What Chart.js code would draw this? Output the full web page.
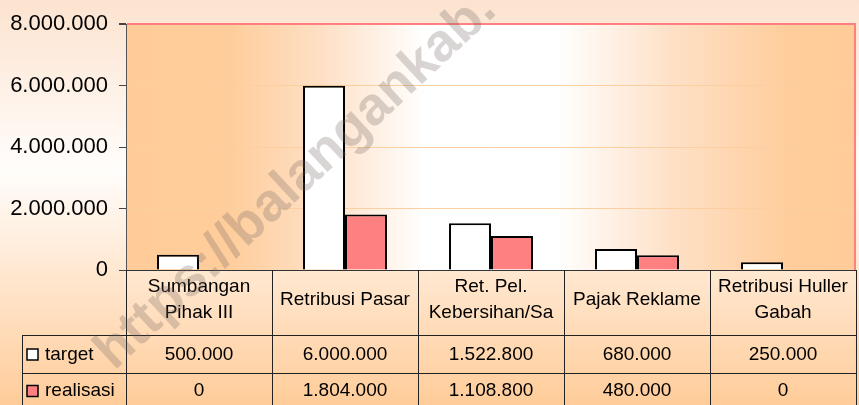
<!DOCTYPE html>
<html>
<head>
<meta charset="utf-8">
<script src="https://cdn.jsdelivr.net/npm/chart.js@4/dist/chart.umd.min.js"></script>
<style>
    body { margin: 0; overflow: hidden; background: #fff; }
    canvas { display: block; }
</style>
</head>
<body>
<canvas id="chart" width="859" height="405"></canvas>
<script>
// data
const categories = [
    ['Sumbangan', 'Pihak III'],
    ['Retribusi Pasar'],
    ['Ret. Pel.', 'Kebersihan/Sa'],
    ['Pajak Reklame'],
    ['Retribusi Huller', 'Gabah']
];
const seriesNames = ['target', 'realisasi'];
const targetValues = [500000, 6000000, 1522800, 680000, 250000];
const realisasiValues = [0, 1804000, 1108800, 480000, 0];
const yTicks = [0, 2000000, 4000000, 6000000, 8000000];

const seriesColors = ['#FFFFFF', '#FF8080'];
const FONT = "'Liberation Sans', Arial, sans-serif";

function formatNumber(v) {
    return String(v).replace(/\B(?=(\d{3})+(?!\d))/g, '.');
}

const backgroundPlugin = {
    id: 'backgrounds',
    beforeDraw(chart) {
        const ctx = chart.ctx;
        const area = chart.chartArea;

        // page background
        const pageGrad = ctx.createLinearGradient(0, 0, 0, chart.height);
        pageGrad.addColorStop(0, '#FCE3CF');
        pageGrad.addColorStop(0.42, '#FFFDFB');
        pageGrad.addColorStop(1, '#FFCC99');
        ctx.save();
        ctx.fillStyle = pageGrad;
        ctx.fillRect(0, 0, chart.width, chart.height);

        // plot area background, orange at both sides, white in the middle
        const plotGrad = ctx.createLinearGradient(area.left, 0, area.right, 0);
        plotGrad.addColorStop(0, '#FFCC99');
        plotGrad.addColorStop(0.14, '#FFCD9B');
        plotGrad.addColorStop(0.27, '#FEE0C6');
        plotGrad.addColorStop(0.41, '#FFFFFF');
        plotGrad.addColorStop(0.59, '#FFFFFF');
        plotGrad.addColorStop(0.75, '#FEE0C6');
        plotGrad.addColorStop(0.91, '#FFCD9B');
        plotGrad.addColorStop(1, '#FFCC99');
        ctx.fillStyle = plotGrad;
        ctx.fillRect(area.left, area.top, area.right - area.left, area.bottom - area.top);
        ctx.restore();
    },
    beforeDatasetsDraw(chart) {
        const ctx = chart.ctx;
        const area = chart.chartArea;
        ctx.save();
        ctx.strokeStyle = '#FF8080';
        ctx.lineWidth = 2;
        ctx.beginPath();
        ctx.moveTo(area.right - 1, area.top);
        ctx.lineTo(area.right - 1, area.bottom);
        ctx.stroke();
        ctx.restore();
    }
};

// data table under the plot, built from the x scale
const dataTablePlugin = {
    id: 'dataTable',
    afterDraw(chart) {
        const ctx = chart.ctx;
        const area = chart.chartArea;
        const xScale = chart.scales.x;
        const colW = (area.right - area.left) / categories.length;
        const top = Math.round(area.bottom);
        const row1 = 335;
        const row2 = 373;
        const legendLeft = 22;
        const bottom = chart.height;

        ctx.save();
        ctx.strokeStyle = '#222';
        ctx.lineWidth = 1;
        ctx.beginPath();
        for (let i = 0; i <= categories.length; i++) {
            const x = Math.round(area.left + i * colW) + 0.5;
            ctx.moveTo(x, top);
            ctx.lineTo(x, bottom);
        }
        ctx.moveTo(legendLeft + 0.5, row1);
        ctx.lineTo(legendLeft + 0.5, bottom);
        ctx.moveTo(legendLeft, row1 + 0.5);
        ctx.lineTo(area.right, row1 + 0.5);
        ctx.moveTo(legendLeft, row2 + 0.5);
        ctx.lineTo(area.right, row2 + 0.5);
        ctx.stroke();

        ctx.fillStyle = '#000';
        ctx.font = '19px ' + FONT;
        ctx.textAlign = 'center';
        ctx.textBaseline = 'middle';

        categories.forEach((lines, i) => {
            const cx = xScale.getPixelForValue(i);
            const lineGap = 26;
            const startY = 300 - (lines.length - 1) * lineGap / 2;
            lines.forEach((line, j) => {
                ctx.fillText(line, cx, startY + j * lineGap);
            });
        });

        const rows = [targetValues, realisasiValues];
        const rowCenters = [354.5, 391];
        rows.forEach((values, r) => {
            values.forEach((v, i) => {
                ctx.fillText(formatNumber(v), xScale.getPixelForValue(i), rowCenters[r]);
            });
            // legend key
            ctx.fillStyle = seriesColors[r];
            ctx.fillRect(27, rowCenters[r] - 5.5, 11, 11);
            ctx.strokeStyle = '#000';
            ctx.lineWidth = 1.5;
            ctx.strokeRect(27, rowCenters[r] - 5.5, 11, 11);
            ctx.fillStyle = '#000';
            ctx.textAlign = 'left';
            ctx.fillText(seriesNames[r], 45, rowCenters[r]);
            ctx.textAlign = 'center';
        });
        ctx.restore();

        // watermark (only the part that is inside the picture)
        ctx.save();
        ctx.translate(104, 360);
        ctx.rotate(-43 * Math.PI / 180);
        ctx.font = 'bold 54px ' + FONT;
        ctx.fillStyle = 'rgba(110, 100, 95, 0.27)';
        ctx.textAlign = 'left';
        ctx.textBaseline = 'middle';
        ctx.fillText('https://balangankab.', 0, 0);
        ctx.restore();
    }
};

new Chart(document.getElementById('chart'), {
    type: 'bar',
    data: {
        labels: categories,
        datasets: [
            {
                label: seriesNames[0],
                data: targetValues,
                backgroundColor: seriesColors[0],
                borderColor: '#000',
                borderWidth: 2,
                categoryPercentage: 0.575,
                barPercentage: 1
            },
            {
                label: seriesNames[1],
                data: realisasiValues,
                backgroundColor: seriesColors[1],
                borderColor: '#000',
                borderWidth: 2,
                categoryPercentage: 0.575,
                barPercentage: 1
            }
        ]
    },
    options: {
        responsive: false,
        animation: false,
        layout: {
            padding: { left: 0, right: 3, top: 20, bottom: 135 }
        },
        plugins: {
            legend: { display: false },
            tooltip: { enabled: false }
        },
        scales: {
            x: {
                display: false
            },
            y: {
                min: yTicks[0],
                max: yTicks[yTicks.length - 1],
                afterFit(scale) {
                    scale.width = 126;
                },
                afterBuildTicks(scale) {
                    scale.ticks = yTicks.map(v => ({ value: v }));
                },
                ticks: {
                    color: '#000',
                    padding: 11,
                    font: { family: FONT, size: 22 },
                    callback: value => formatNumber(value)
                },
                grid: {
                    tickLength: 7,
                    tickColor: '#444',
                    color: ctx => {
                        if (ctx.tick.value === 0) return '#333';
                        if (ctx.tick.value === 8000000) return '#FF8080';
                        return '#FBCF9F';
                    },
                    lineWidth: ctx => ctx.tick.value === 8000000 ? 2 : 1
                },
                border: { display: true, color: '#555', width: 1 }
            }
        }
    },
    plugins: [backgroundPlugin, dataTablePlugin]
});
</script>
</body>
</html>
